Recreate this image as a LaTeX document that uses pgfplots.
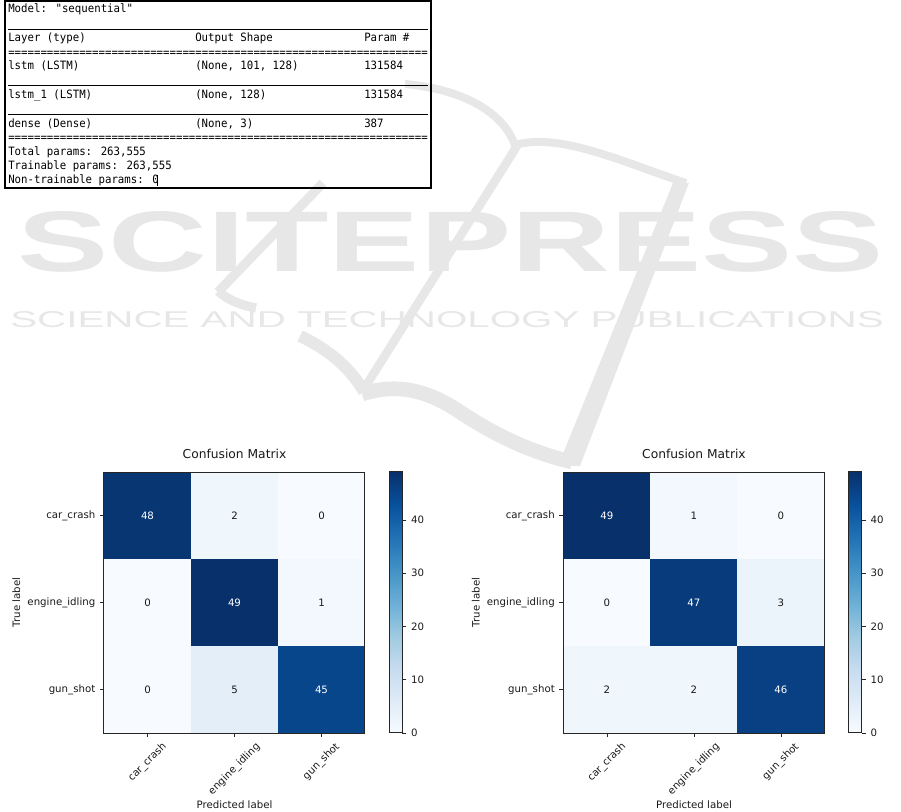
\documentclass[border=0pt]{standalone}
\usepackage{fontspec}
\setmainfont{DejaVu Sans}
\newfontfamily\consfont[FakeStretch=0.935]{DejaVu Sans Mono}
\newfontfamily\wmfont{Liberation Sans}
\usepackage{graphicx}
\usepackage{pgfplots}
\pgfplotsset{compat=1.18}

\definecolor{wm}{RGB}{230,231,230}
\newcommand\tickfont{\fontsize{7.65}{9}\selectfont}
\newcommand\boxfont{\consfont\fontsize{8.6}{10}\selectfont}
\def\eqs{==========}

\pgfplotsset{
  colormap={blues}{rgb255=(247,251,255) rgb255=(222,235,247) rgb255=(198,219,239)
    rgb255=(158,202,225) rgb255=(107,174,214) rgb255=(66,146,198)
    rgb255=(33,113,181) rgb255=(8,81,156) rgb255=(8,48,107)},
  cm/.style={
    scale only axis, width=195.75pt, height=195.75pt,
    anchor=south west,
    xmin=-0.5, xmax=2.5, ymin=-0.5, ymax=2.5, y dir=reverse,
    enlargelimits=false, axis on top,
    xtick={0,1,2}, ytick={0,1,2},
    xticklabels={\rotatebox{45}{car\_crash},\rotatebox{45}{engine\_idling},\rotatebox{45}{gun\_shot}},
    yticklabels={car\_crash,engine\_idling,gun\_shot},
    tick pos=left, tick align=outside, major tick length=3pt,
    tick style={black!85, line width=0.6pt},
    axis line style={black!85, line width=0.75pt},
    ticklabel style={font=\tickfont, text=black!90},
    title={Confusion Matrix},
    title style={at={(0.5,1)}, anchor=south, inner sep=0pt, yshift=3.75pt,
      font=\fontsize{9.2}{11}\selectfont, text=black!90},
    xlabel={Predicted label}, ylabel={True label},
    xlabel style={at={(axis description cs:0.5,-0.257)}, anchor=north, inner sep=0pt,
      font=\tickfont, text=black!90},
    ylabel style={at={(axis description cs:-0.32,0.5)}, anchor=south, inner sep=0pt,
      font=\tickfont, text=black!90},
    /pgf/number format/assume math mode=true,
    point meta min=0, point meta max=49,
    colorbar,
    colorbar shift/.style={xshift=18pt},
    colorbar style={
      at={(parent axis.north east)}, anchor=north west,
      scale only axis, width=10.1pt, height=195.75pt,
      y dir=normal,
      ytick={0,10,20,30,40}, xtick=\empty,
      ytick pos=right, yticklabel pos=right,
      tick align=outside, major tick length=3pt,
      tick style={black!85, line width=0.6pt},
      axis line style={black!85, line width=0.75pt},
      yticklabel style={font=\tickfont, text=black!90,
        /pgf/number format/assume math mode=true},
    },
  },
  cellhi/.style={draw=none, nodes near coords, point meta=explicit,
    nodes near coords align={center},
    every node near coord/.append style={font=\tickfont, text=white}},
  celllo/.style={draw=none, nodes near coords, point meta=explicit,
    nodes near coords align={center},
    every node near coord/.append style={font=\tickfont, text=black!90}},
}

\begin{document}
\begin{tikzpicture}
\useasboundingbox (0,0) rectangle (675.75pt,-609pt);
\begin{scope}[x=0.75pt,y=-0.75pt]
  % watermark (background)
  \fill[wm] (673,183) -- (689,183) -- (580,466) -- (558,466) -- cycle;
  \draw[wm, line width=6pt] (405,84) .. controls (450,88) and (500,105) .. (515,145);
  \draw[wm, line width=6pt] (515,145) .. controls (560,132) and (625,163) .. (686,183);
  \draw[wm, line width=6.5pt] (517,146) -- (362,392);
  \draw[wm, line width=7pt] (323,183) -- (218,292);
  \draw[wm, line width=7pt] (218,291) .. controls (228,300) and (240,305) .. (256,308);
  \draw[wm, line width=9pt] (300,336) .. controls (330,350) and (352,370) .. (364,392);
  \draw[wm, line width=11pt] (362,394) .. controls (400,382) and (430,392) .. (460,412)
    .. controls (495,435) and (530,452) .. (572,462);
  \node[anchor=south west, inner sep=0pt, text=wm] at (17,273)
    {\resizebox{649.5pt}{45pt}{\wmfont\bfseries SCITEPRESS}};
  \node[anchor=south west, inner sep=0pt, text=wm] at (10,328)
    {\resizebox{655pt}{12pt}{\wmfont SCIENCE AND TECHNOLOGY PUBLICATIONS}};

  % model summary box
  \draw[line width=1.5pt] (5,0.8) rectangle (431,188);
  \draw[line width=0.75pt] (8,29.3) -- (428,29.3);
  \draw[line width=0.75pt] (8,86) -- (428,86);
  \draw[line width=0.75pt] (8,114.3) -- (428,114.3);
  \draw[line width=0.6pt] (157.5,175) -- (157.5,186);
  \begin{scope}[every node/.style={anchor=base west, inner sep=0pt, font=\boxfont}]
    \node at (8,13) {Model: "sequential"};
    \node at (8,41.5) {Layer (type)};
    \node at (195,41.5) {Output Shape};
    \node at (364,41.5) {Param \#};
    \node at (8,56.3) {\eqs\eqs\eqs\eqs\eqs\eqs=====};
    \node at (8,70) {lstm (LSTM)};
    \node at (195,70) {(None, 101, 128)};
    \node at (364,70) {131584};
    \node at (8,99) {lstm\_1 (LSTM)};
    \node at (195,99) {(None, 128)};
    \node at (364,99) {131584};
    \node at (8,128) {dense (Dense)};
    \node at (195,128) {(None, 3)};
    \node at (364,128) {387};
    \node at (8,141.3) {\eqs\eqs\eqs\eqs\eqs\eqs=====};
    \node at (8,155.5) {Total params: 263,555};
    \node at (8,169.5) {Trainable params: 263,555};
    \node at (8,184) {Non-trainable params: 0};
  \end{scope}
\end{scope}

% left confusion matrix
\begin{axis}[cm, at={(78pt,-549.75pt)}]
  \addplot[matrix plot*, mesh/cols=3, point meta=explicit] table[meta=c] {
    x y c
    0 0 48
    1 0 2
    2 0 0
    0 1 0
    1 1 49
    2 1 1
    0 2 0
    1 2 5
    2 2 45
  };
  \addplot[cellhi] coordinates {(0,0) [48] (1,1) [49] (2,2) [45]};
  \addplot[celllo] coordinates {(1,0) [2] (2,0) [0] (0,1) [0] (2,1) [1] (0,2) [0] (1,2) [5]};
\end{axis}

% right confusion matrix
\begin{axis}[cm, at={(422.6pt,-549.75pt)}]
  \addplot[matrix plot*, mesh/cols=3, point meta=explicit] table[meta=c] {
    x y c
    0 0 49
    1 0 1
    2 0 0
    0 1 0
    1 1 47
    2 1 3
    0 2 2
    1 2 2
    2 2 46
  };
  \addplot[cellhi] coordinates {(0,0) [49] (1,1) [47] (2,2) [46]};
  \addplot[celllo] coordinates {(1,0) [1] (2,0) [0] (0,1) [0] (2,1) [3] (0,2) [2] (1,2) [2]};
\end{axis}
\end{tikzpicture}
\end{document}
